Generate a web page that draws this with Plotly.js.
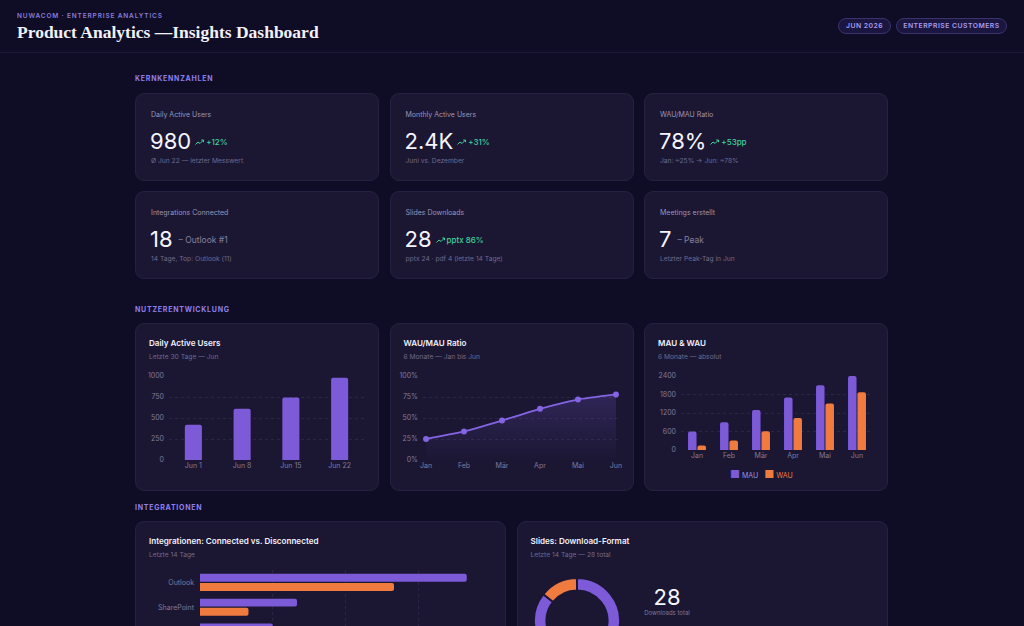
<!DOCTYPE html>
<html lang="de">
<head>
<meta charset="utf-8">
<title>Product Analytics — Insights Dashboard</title>
<script src="https://cdn.plot.ly/plotly-3.0.1.min.js"></script>
<style>
  html, body { margin: 0; padding: 0; width: 1024px; height: 626px; overflow: hidden; }
  body { background: #0f0c25; font-family: Inter, "Noto Sans", sans-serif; position: relative; color: #f2f0fb; }
  .abs { position: absolute; }
  .eyebrow { left: 17px; top: 12px; font-size: 6.5px; font-weight: 600; letter-spacing: 0.85px; color: #8a7ed8; white-space: nowrap; }
  .title { left: 17px; top: 22px; font-family: "Liberation Serif", "DejaVu Serif", serif; font-weight: 700; font-size: 17.5px; color: #f3f1fb; white-space: nowrap; }
  .hline { left: 0; top: 52px; width: 1024px; height: 1px; background: #1c1939; }
  .pill { top: 18px; height: 16px; box-sizing: border-box; border: 1px solid #3a336b; background: #1a1640; border-radius: 9px;
          font-size: 6.8px; font-weight: 600; letter-spacing: 0.5px; color: #a99cf0; line-height: 14px; text-align: center; white-space: nowrap; }
  .section { left: 135px; font-size: 7px; font-weight: 700; letter-spacing: 0.75px; color: #8f80ec; white-space: nowrap; }
  .card { background: #1b1733; border: 1px solid #262140; border-radius: 9px; box-sizing: border-box; }
  .kpi-label { position: absolute; left: 15px; top: 16px; font-size: 7px; color: #9a96b3; white-space: nowrap; }
  .kpi-row { position: absolute; left: 14px; top: 35px; display: flex; align-items: center; white-space: nowrap; height: 24px; }
  .kpi-num { font-size: 22px; font-weight: 400; color: #f6f4ff; line-height: 24px; }
  .kpi-delta { margin-left: 4px; font-size: 8px; font-weight: 500; color: #40d39a; display: flex; align-items: center; margin-top: 1px; }
  .kpi-delta svg { margin-right: 2px; }
  .kpi-note { margin-left: 6px; font-size: 8.5px; color: #85819f; margin-top: 1px; }
  .kpi-sub { position: absolute; left: 15px; top: 63px; font-size: 6.7px; color: #6e6a8b; white-space: nowrap; }
  .chart-title { position: absolute; left: 13px; top: 14px; font-size: 8.1px; font-weight: 600; color: #f1effa; white-space: nowrap; }
  .chart-sub { position: absolute; left: 13px; top: 29px; font-size: 6.7px; color: #6e6a8b; white-space: nowrap; }
  .plot { position: absolute; }
  .donut-num { font-size: 22px; color: #f6f4ff; text-align: center; width: 80px; }
  .donut-cap { font-size: 6px; color: #7d7998; text-align: center; width: 80px; }
</style>
</head>
<body>

<div class="abs eyebrow">NUWACOM · ENTERPRISE ANALYTICS</div>
<div class="abs title">Product Analytics —Insights Dashboard</div>
<div class="abs pill" style="left:838px;width:53px;">JUN 2026</div>
<div class="abs pill" style="left:896px;width:111px;">ENTERPRISE CUSTOMERS</div>
<div class="abs hline"></div>

<div class="abs section" style="top:74px;">KERNKENNZAHLEN</div>
<div class="abs section" style="top:305px;">NUTZERENTWICKLUNG</div>
<div class="abs section" style="top:503px;">INTEGRATIONEN</div>

<div id="kpis"></div>

<!-- chart cards -->
<div class="abs card" style="left:135px;top:323px;width:244px;height:168px;">
  <div class="chart-title">Daily Active Users</div>
  <div class="chart-sub">Letzte 30 Tage — Jun</div>
</div>
<div class="abs card" style="left:389.5px;top:323px;width:244px;height:168px;">
  <div class="chart-title">WAU/MAU Ratio</div>
  <div class="chart-sub">6 Monate — Jan bis Jun</div>
</div>
<div class="abs card" style="left:644px;top:323px;width:244px;height:168px;">
  <div class="chart-title">MAU &amp; WAU</div>
  <div class="chart-sub">6 Monate — absolut</div>
</div>
<div class="abs card" style="left:135px;top:521px;width:371px;height:200px;">
  <div class="chart-title">Integrationen: Connected vs. Disconnected</div>
  <div class="chart-sub">Letzte 14 Tage</div>
</div>
<div class="abs card" style="left:516.5px;top:521px;width:371.5px;height:200px;">
  <div class="chart-title">Slides: Download-Format</div>
  <div class="chart-sub" id="slidesSub"></div>
</div>

<div id="dauPlot" class="plot" style="left:135px;top:366px;width:244px;height:120px;"></div>
<div id="ratioPlot" class="plot" style="left:390px;top:366px;width:243px;height:120px;"></div>
<div id="mauPlot" class="plot" style="left:644px;top:366px;width:244px;height:130px;"></div>
<div id="intPlot" class="plot" style="left:135px;top:560px;width:371px;height:66px;"></div>
<div id="donutPlot" class="plot" style="left:534px;top:578px;width:86px;height:86px;"></div>
<div class="abs donut-num" id="donutNum" style="left:627px;top:584px;"></div>
<div class="abs donut-cap" style="left:627px;top:609px;">Downloads total</div>

<script>
// ---- data ----
const dauDays = ['Jun 1', 'Jun 8', 'Jun 15', 'Jun 22'];
const dauValues = [420, 610, 745, 980];

const months = ['Jan', 'Feb', 'Mär', 'Apr', 'Mai', 'Jun'];
const ratioValues = [0.25, 0.34, 0.47, 0.61, 0.72, 0.78];
const mauValues = [600, 900, 1300, 1700, 2100, 2400];
const wauValues = [150, 305, 610, 1035, 1510, 1870];

const integrations = ['Outlook', 'SharePoint', 'Teams'];
const connectedValues = [11, 4, 3];
const disconnectedValues = [8, 2, 1];

const formats = ['pptx', 'pdf'];
const formatValues = [24, 4];

const kpiLabels = ['Daily Active Users', 'Monthly Active Users', 'WAU/MAU Ratio',
                   'Integrations Connected', 'Slides Downloads', 'Meetings erstellt'];
const kpiDeltas = ['+12%', '+31%', '+53pp', null, 'pptx 86%', null];
const kpiNotes = [null, null, null, '– Outlook #1', null, '– Peak'];
const kpiSubs = ['Ø Jun 22 — letzter Messwert', 'Juni vs. Dezember', 'Jan: ~25% → Jun: ~78%',
                 '14 Tage, Top: Outlook (11)', 'pptx 24 · pdf 4 (letzte 14 Tage)', 'Letzter Peak-Tag in Jun'];
const meetingsPeak = 7;

// ---- palette ----
const PURPLE = '#7c5ad8';
const ORANGE = '#f07b3f';
const CARD = '#1b1733';
const TICK = '#7f7b9c';
const GRID = 'rgba(150,140,200,0.13)';
const FONT = 'Inter, Noto Sans, sans-serif';

// ---- KPI cards ----
const sum = a => a.reduce((s, v) => s + v, 0);
const kpiValues = [
  String(dauValues[dauValues.length - 1]),
  (mauValues[mauValues.length - 1] / 1000).toFixed(1) + 'K',
  Math.round(ratioValues[ratioValues.length - 1] * 100) + '%',
  String(sum(connectedValues)),
  String(sum(formatValues)),
  String(meetingsPeak)
];
const trendIcon = '<svg width="9" height="6" viewBox="0 0 9 6"><polyline points="0.5,5.5 3,3 5,4.5 8.5,1" fill="none" stroke="#40d39a" stroke-width="1"/><polyline points="6.3,1 8.5,1 8.5,3.2" fill="none" stroke="#40d39a" stroke-width="1"/></svg>';
const cardLefts = [135, 389.5, 644];
const cardTops = [93, 191];
let html = '';
kpiLabels.forEach((lab, i) => {
  const left = cardLefts[i % 3], top = cardTops[Math.floor(i / 3)];
  let row = '<span class="kpi-num">' + kpiValues[i] + '</span>';
  if (kpiDeltas[i]) row += '<span class="kpi-delta">' + trendIcon + kpiDeltas[i] + '</span>';
  if (kpiNotes[i]) row += '<span class="kpi-note">' + kpiNotes[i] + '</span>';
  html += '<div class="abs card" style="left:' + left + 'px;top:' + top + 'px;width:244px;height:88px;">' +
          '<div class="kpi-label">' + lab + '</div>' +
          '<div class="kpi-row">' + row + '</div>' +
          '<div class="kpi-sub">' + kpiSubs[i] + '</div></div>';
});
document.getElementById('kpis').innerHTML = html;
document.getElementById('slidesSub').textContent = 'Letzte 14 Tage — ' + sum(formatValues) + ' total';
document.getElementById('donutNum').textContent = sum(formatValues);

const cfg = { displayModeBar: false, staticPlot: true };
const baseLayout = (m) => ({
  margin: m,
  paper_bgcolor: 'rgba(0,0,0,0)',
  plot_bgcolor: 'rgba(0,0,0,0)',
  font: { family: FONT, size: 7, color: TICK },
  showlegend: false
});
const yGrid = {
  showgrid: true, gridcolor: GRID, griddash: 'dot', gridwidth: 1,
  zeroline: false, showline: false, ticks: '', ticklabelstandoff: 4,
  tickfont: { size: 7, color: TICK }, fixedrange: true
};
const xCat = {
  showgrid: false, zeroline: false, showline: false, ticks: '',
  tickfont: { size: 7, color: TICK }, fixedrange: true
};

// Daily active users
Plotly.newPlot('dauPlot', [{
  type: 'bar', x: dauDays, y: dauValues, marker: { color: PURPLE }, hoverinfo: 'skip'
}], Object.assign(baseLayout({ l: 34, r: 15, t: 10, b: 26 }), {
  bargap: 0.65, barcornerradius: 2,
  xaxis: Object.assign({}, xCat, { range: [-0.5, 3.5] }),
  yaxis: Object.assign({}, yGrid, { range: [0, 1000], tickvals: [0, 250, 500, 750, 1000] })
}), cfg);

// WAU/MAU ratio
Plotly.newPlot('ratioPlot', [{
  type: 'scatter', mode: 'lines+markers', x: months, y: ratioValues,
  line: { color: '#8464e4', width: 1.8, shape: 'spline', smoothing: 0.4 },
  marker: { color: '#8464e4', size: 6 },
  fill: 'tozeroy',
  fillgradient: { type: 'vertical', colorscale: [[0, 'rgba(124,90,216,0)'], [1, 'rgba(124,90,216,0.22)']] },
  hoverinfo: 'skip'
}], Object.assign(baseLayout({ l: 33, r: 14, t: 10, b: 26 }), {
  xaxis: Object.assign({}, xCat, { range: [-0.08, 5.08] }),
  yaxis: Object.assign({}, yGrid, { range: [0, 1], tickvals: [0, 0.25, 0.5, 0.75, 1], tickformat: '.0%' })
}), cfg);

// MAU & WAU
Plotly.newPlot('mauPlot', [
  { type: 'bar', name: 'MAU', x: months, y: mauValues, marker: { color: PURPLE }, hoverinfo: 'skip' },
  { type: 'bar', name: 'WAU', x: months, y: wauValues, marker: { color: ORANGE }, hoverinfo: 'skip' }
], Object.assign(baseLayout({ l: 37, r: 15, t: 10, b: 45.7 }), {
  barmode: 'group', bargap: 0.41, bargroupgap: 0.1, barcornerradius: 2,
  xaxis: Object.assign({}, xCat, { range: [-0.5, 5.5] }),
  yaxis: Object.assign({}, yGrid, { range: [0, 2400], tickvals: [0, 600, 1200, 1800, 2400] }),
  annotations: [{
    xref: 'paper', yref: 'paper', x: 0.42, y: -0.325, xanchor: 'center', yanchor: 'middle', showarrow: false,
    text: '<span style="color:' + PURPLE + ';font-size:11px">■</span> <span style="color:#9a8fe0">MAU</span>' +
          '   <span style="color:' + ORANGE + ';font-size:11px">■</span> <span style="color:' + ORANGE + '">WAU</span>',
    font: { size: 7, family: FONT }
  }]
}), cfg);

// Integrations connected vs. disconnected (the card continues below the fold)
Plotly.newPlot('intPlot', [
  { type: 'bar', orientation: 'h', name: 'Connected', y: integrations, x: connectedValues, marker: { color: PURPLE }, hoverinfo: 'skip' },
  { type: 'bar', orientation: 'h', name: 'Disconnected', y: integrations, x: disconnectedValues, marker: { color: ORANGE }, hoverinfo: 'skip' }
], Object.assign(baseLayout({ l: 65, r: 15, t: 9.5, b: 0 }), {
  barmode: 'group', bargap: 0.26, bargroupgap: 0.14, barcornerradius: 2,
  xaxis: { range: [0, 12], tickvals: [0, 3, 6, 9, 12], showticklabels: false, showgrid: true, gridcolor: GRID, griddash: 'dot',
           zeroline: false, showline: false, ticks: '', fixedrange: true },
  yaxis: { range: [1.76, -0.5], showgrid: false, zeroline: false, showline: false, ticks: '',
           ticklabelstandoff: 5, tickfont: { size: 7, color: TICK }, fixedrange: true }
}), cfg);

// Slides download format
Plotly.newPlot('donutPlot', [{
  type: 'pie', labels: formats, values: formatValues, hole: 0.71, sort: false,
  direction: 'clockwise', rotation: 0, textinfo: 'none', hoverinfo: 'skip',
  marker: { colors: [PURPLE, ORANGE], line: { color: CARD, width: 2 } }
}], Object.assign(baseLayout({ l: 0, r: 0, t: 0, b: 0 }), {}), cfg);
</script>
</body>
</html>
